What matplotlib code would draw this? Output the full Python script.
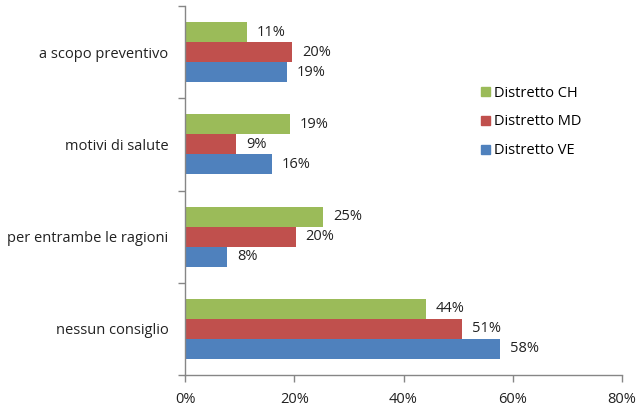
import matplotlib
matplotlib.use('Agg')
import matplotlib.pyplot as plt
from matplotlib.patches import Patch
from matplotlib.ticker import FuncFormatter
import numpy as np

# categories from bottom to top
categories = ['nessun consiglio', 'per entrambe le ragioni', 'motivi di salute', 'a scopo preventivo']
series_names = ['Distretto VE', 'Distretto MD', 'Distretto CH']
ve_values = [57.7, 7.7, 15.9, 18.7]
md_values = [50.7, 20.3, 9.4, 19.6]
ch_values = [44.1, 25.3, 19.2, 11.4]
ve_labels = ['58%', '8%', '16%', '19%']
md_labels = ['51%', '20%', '9%', '20%']
ch_labels = ['44%', '25%', '19%', '11%']
x_ticks = [0, 20, 40, 60, 80]

colors = {'Distretto VE': '#4F81BD', 'Distretto MD': '#C0504D', 'Distretto CH': '#9BBB59'}

plt.rcParams['font.family'] = ['Open Sans', 'DejaVu Sans']
fs = 10.5

fig = plt.figure(figsize=(6.36, 4.07), dpi=100)
ax = fig.add_axes([185 / 636, 1 - 375 / 407, 437 / 636, 369 / 407])

y = np.arange(len(categories))
h = 0.217
offsets = [-h, 0, h]
all_values = [ve_values, md_values, ch_values]
all_labels = [ve_labels, md_labels, ch_labels]

for name, vals, labs, off in zip(series_names, all_values, all_labels, offsets):
    bars = ax.barh(y + off, vals, height=h, color=colors[name], edgecolor='none')
    for b, lab in zip(bars, labs):
        ax.annotate(lab, (b.get_width(), b.get_y() + b.get_height() / 2),
                    xytext=(7, 0), textcoords='offset points',
                    va='center', ha='left', fontsize=fs, color='#222222')

ax.set_xlim(0, 80)
ax.set_ylim(-0.5, len(categories) - 0.5)
ax.set_xticks(x_ticks)
ax.xaxis.set_major_formatter(FuncFormatter(lambda v, p: f'{int(v)}%'))
ax.set_yticks(y)
ax.set_yticklabels(categories)
ax.set_yticks(np.arange(-0.5, len(categories)), minor=True)
ax.tick_params(axis='y', which='major', length=0, pad=12, labelcolor='#222222', labelsize=fs)
ax.tick_params(axis='y', which='minor', length=5, color='#868686', width=1)
ax.tick_params(axis='x', length=5, color='#868686', width=1, labelcolor='#222222', labelsize=fs, pad=7)

for s in ['top', 'right']:
    ax.spines[s].set_visible(False)
for s in ['left', 'bottom']:
    ax.spines[s].set_color('#868686')
    ax.spines[s].set_linewidth(1)

handles = [Patch(color=colors[n]) for n in reversed(series_names)]
fig.legend(handles, list(reversed(series_names)), loc='center left',
           bbox_to_anchor=(468 / 636, 1 - 122 / 407), frameon=False,
           handlelength=0.6, handleheight=0.6, handletextpad=0.3,
           labelspacing=0.95, fontsize=fs)

fig.savefig('out.png', dpi=100)
